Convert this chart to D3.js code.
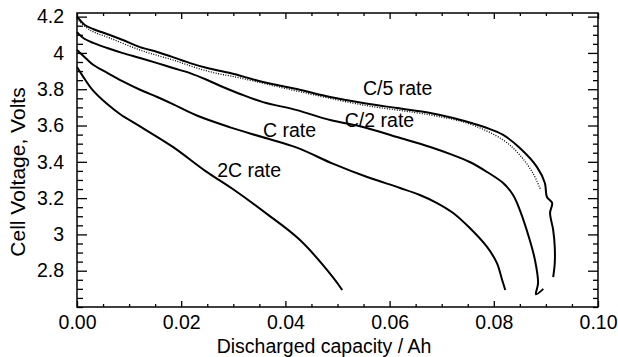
<!DOCTYPE html>
<html>
<head>
<meta charset="utf-8">
<script src="https://cdn.jsdelivr.net/npm/d3@7"></script>
<style>
body{margin:0;background:#fff}
text{font-family:"Liberation Sans",Arial,sans-serif}
</style>
</head>
<body>
<script>
const width = 618
const height = 357

// capacity (Ah), voltage (V)
const c5Cap  = [0,0.0006,0.0015,0.0031,0.0063,0.0088,0.0121,0.0154,0.0184,0.0217,0.025,0.0294,0.0357,0.0422,0.0486,0.0549,0.0614,0.0678,0.0722,0.0787,0.0818,0.085,0.0883,0.0898,0.0902,0.0912,0.0908,0.0914,0.0917,0.0917,0.0914]
const c5Volt = [4.2,4.18,4.154,4.132,4.099,4.071,4.032,4.005,3.977,3.944,3.917,3.889,3.84,3.801,3.757,3.724,3.696,3.669,3.641,3.586,3.548,3.476,3.371,3.283,3.206,3.173,3.118,3.024,2.931,2.842,2.765]

const dotCap  = [0,0.0025,0.0063,0.0121,0.0184,0.025,0.0313,0.0422,0.0549,0.0678,0.0754,0.0818,0.085,0.0875,0.089]
const dotVolt = [4.187,4.126,4.082,4.016,3.961,3.9,3.862,3.79,3.713,3.658,3.608,3.52,3.437,3.338,3.245]

const c2Cap  = [0,0.0012,0.0031,0.0058,0.0088,0.0121,0.0154,0.0184,0.0217,0.025,0.028,0.0313,0.0357,0.0422,0.0486,0.0549,0.0614,0.0678,0.0722,0.0754,0.0787,0.0818,0.0837,0.085,0.0869,0.0879,0.0885,0.0881,0.0895]
const c2Volt = [4.115,4.082,4.055,4.027,3.999,3.972,3.944,3.917,3.889,3.851,3.812,3.774,3.729,3.685,3.63,3.592,3.537,3.482,3.437,3.399,3.344,3.283,3.217,3.134,2.969,2.859,2.732,2.67,2.7]

const c1Cap  = [0,0.0019,0.0031,0.0058,0.0088,0.0121,0.0154,0.0184,0.023,0.0294,0.0357,0.0422,0.0491,0.0557,0.062,0.0658,0.0691,0.0722,0.0754,0.0787,0.0806,0.0816,0.0822]
const c1Volt = [4.016,3.965,3.935,3.89,3.843,3.797,3.757,3.718,3.655,3.59,3.535,3.478,3.39,3.316,3.256,3.217,3.173,3.118,3.035,2.931,2.842,2.749,2.694]

const c2xCap  = [0,0.0012,0.0031,0.0058,0.0083,0.0121,0.0184,0.0246,0.0299,0.0365,0.0428,0.0491,0.0509]
const c2xVolt = [3.922,3.868,3.792,3.718,3.662,3.595,3.482,3.35,3.25,3.112,2.969,2.765,2.694]

const labelText = ['C/5 rate','C/2 rate','C rate','2C rate']
const labelCap  = [0.0549,0.0514,0.0357,0.0269]
const labelVolt = [3.768,3.592,3.537,3.316]

const xTicks = [0,0.02,0.04,0.06,0.08,0.1]
const yTicks = [2.8,3,3.2,3.4,3.6,3.8,4,4.2]

const margin = {top:13,right:20,bottom:50,left:77}
const iw = width - margin.left - margin.right
const ih = height - margin.top - margin.bottom

const x = d3.scaleLinear().domain([0,0.1]).range([0,iw])
const y = d3.scaleLinear().domain([2.6,4.22]).range([ih,0])

const xMinor = d3.range(0,0.1001,0.005).filter(v => !xTicks.some(t => Math.abs(t-v) < 1e-6))
const yMinor = d3.range(2.6,4.2201,0.05).filter(v => !yTicks.some(t => Math.abs(t-v) < 1e-6))

const svg = d3.select('body').append('svg')
  .attr('width',width)
  .attr('height',height)

const g = svg.append('g')
  .attr('transform',`translate(${margin.left},${margin.top})`)

const fs = '19.5px'

// bottom
g.append('g')
  .attr('transform',`translate(0,${ih})`)
  .call(d3.axisBottom(x).tickValues(xTicks).tickSize(-6).tickPadding(8).tickFormat(d3.format('.2f')))
  .call(a => a.selectAll('text').style('font-size',fs).attr('fill','#000'))
g.append('g')
  .attr('transform',`translate(0,${ih})`)
  .call(d3.axisBottom(x).tickValues(xMinor).tickSize(-3).tickFormat(''))
// top
g.append('g')
  .call(d3.axisTop(x).tickValues(xTicks).tickSize(-6).tickFormat(''))
g.append('g')
  .call(d3.axisTop(x).tickValues(xMinor).tickSize(-3).tickFormat(''))
// left
g.append('g')
  .call(d3.axisLeft(y).tickValues(yTicks).tickSize(-10).tickPadding(13).tickFormat(d => +d.toFixed(1)))
  .call(a => a.selectAll('text').style('font-size',fs).attr('fill','#000'))
g.append('g')
  .call(d3.axisLeft(y).tickValues(yMinor).tickSize(-6).tickFormat(''))
// right
g.append('g')
  .attr('transform',`translate(${iw},0)`)
  .call(d3.axisRight(y).tickValues(yTicks).tickSize(-10).tickFormat(''))
g.append('g')
  .attr('transform',`translate(${iw},0)`)
  .call(d3.axisRight(y).tickValues(yMinor).tickSize(-5).tickFormat(''))

g.selectAll('.domain').remove()
g.selectAll('.tick line').attr('stroke','#000').attr('stroke-width',1.3)

g.append('rect')
  .attr('width',iw)
  .attr('height',ih)
  .attr('fill','none')
  .attr('stroke','#000')
  .attr('stroke-width',1.5)

const line = d3.line().x(d => x(d[0])).y(d => y(d[1])).curve(d3.curveCatmullRom.alpha(0.5))
const pairs = (a,b) => a.map((v,i) => [v,b[i]])

const series = [
  {pts:pairs(dotCap,dotVolt),w:1.3,dash:'1,1.5'},
  {pts:pairs(c5Cap,c5Volt),w:2},
  {pts:pairs(c2Cap,c2Volt),w:2},
  {pts:pairs(c1Cap,c1Volt),w:2},
  {pts:pairs(c2xCap,c2xVolt),w:2}
]

g.append('g')
  .selectAll('path')
  .data(series)
  .enter().append('path')
    .attr('d',d => line(d.pts))
    .attr('fill','none')
    .attr('stroke','#000')
    .attr('stroke-width',d => d.w)
    .attr('stroke-dasharray',d => d.dash || null)
    .attr('stroke-linejoin','round')

g.append('g')
  .selectAll('text')
  .data(labelText)
  .enter().append('text')
    .attr('x',(d,i) => x(labelCap[i]))
    .attr('y',(d,i) => y(labelVolt[i]))
    .style('font-size',fs)
    .text(d => d)

svg.append('text')
  .attr('x',324)
  .attr('y',353)
  .attr('text-anchor','middle')
  .style('font-size',fs)
  .text('Discharged capacity / Ah')

svg.append('text')
  .attr('transform','translate(25,172) rotate(-90)')
  .attr('text-anchor','middle')
  .style('font-size','21px')
  .text('Cell Voltage, Volts')
</script>
</body>
</html>
